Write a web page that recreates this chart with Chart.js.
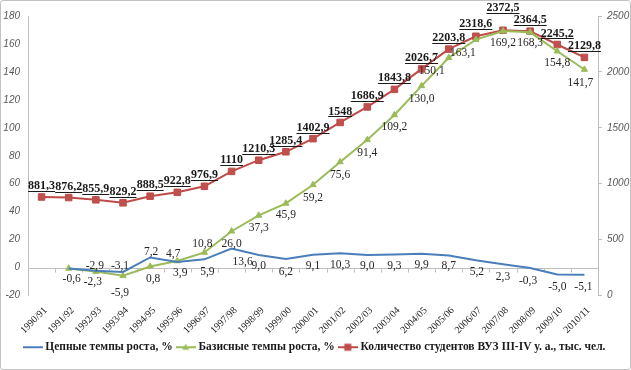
<!DOCTYPE html>
<html>
<head>
<meta charset="utf-8">
<script src="https://cdn.jsdelivr.net/npm/chart.js@4.4.1/dist/chart.umd.min.js"></script>
<style>
    html, body { margin: 0; padding: 0; background: #fff; }
    #wrap { width: 629px; height: 368px; border: 1px solid #c3c3c3; border-radius: 3px; position: relative; }
</style>
</head>
<body>
<div id="wrap"><canvas id="myChart"></canvas></div>
<script>
const years = ['1990/91', '1991/92', '1992/93', '1993/94', '1994/95', '1995/96', '1996/97',
    '1997/98', '1998/99', '1999/00', '2000/01', '2001/02', '2002/03', '2003/04', '2004/05',
    '2005/06', '2006/07', '2007/08', '2008/09', '2009/10', '2010/11'];

// Цепные темпы роста, %
const chainGrowth = [null, -0.6, -2.3, -3.1, 7.2, 3.9, 5.9, 13.6, 9.0, 6.2, 9.1, 10.3, 9.0, 9.3,
    9.9, 8.7, 5.2, 2.3, -0.3, -5.0, -5.1];

// Базисные темпы роста, %
const baseGrowth = [null, -0.6, -2.9, -5.9, 0.8, 4.7, 10.8, 26.0, 37.3, 45.9, 59.2, 75.6, 91.4,
    109.2, 130.0, 150.1, 163.1, 169.2, 168.3, 154.8, 141.7];

// Количество студентов, тыс. чел.
const students = [881.3, 876.2, 855.9, 829.2, 888.5, 922.8, 976.9, 1110, 1210.3, 1285.4, 1402.9,
    1548, 1686.9, 1843.8, 2026.7, 2203.8, 2318.6, 2372.5, 2364.5, 2245.2, 2129.8];

const leftAxis = { min: -20, max: 180, step: 20 };
const rightAxis = { min: 0, max: 2500, step: 500 };

// label offsets (px) relative to the point
const baseLabelDx = [0, 3, -1, -3, 3, -4, -2, 0, 0, 0, 0, 0, 0, 0, 0, -17, -13, 0, 0, 0, -4];
const baseLabelDy = [0, 11, -6, 17, 13, -7, -8, 13, 13, 12, 13, 13, 13, 12, 13, 13, 13, 12, 11, 12, 13];
const chainLabelDx = [0, 0, -3, -3, 1, 3, 3, 11, 0, 0, 0, 0, 0, 0, 0, 0, 1, 0, -2, 0, -1];
const chainLabelDy = [0, null, 11, -6, -6, 11, 13, 13, 11, 13, 11, 12, 11, 11, 11, 11, 12, 13, 13, 12, 12];
const studLabelDy = [-11, -11, -11, -11, -11, -11, -11, -11, -11, -11, -11, -11, -11, -11, -11,
    -11, -12, -22, -11, -11, -11];

const BLUE = '#4a7ebb';
const GREEN = '#9bbb59';
const RED = '#be4b48';

function legendIcon(color, marker) {
    let c = document.createElement('canvas');
    c.width = 20;
    c.height = 10;
    let ctx = c.getContext('2d');
    ctx.strokeStyle = color;
    ctx.lineWidth = 2;
    ctx.beginPath();
    ctx.moveTo(0, 5);
    ctx.lineTo(20, 5);
    ctx.stroke();
    ctx.fillStyle = color;
    if (marker === 'triangle') {
        ctx.beginPath();
        ctx.moveTo(10, 1.5);
        ctx.lineTo(13.5, 7.5);
        ctx.lineTo(6.5, 7.5);
        ctx.closePath();
        ctx.fill();
    } else if (marker === 'rect') {
        ctx.fillRect(6.5, 1.5, 7, 7);
    }
    return c;
}

function fmt(v, fixed) {
    let s = fixed ? v.toFixed(1) : String(v);
    return s.replace('.', ',');
}

const zeroLine = {
    id: 'zeroLine',
    beforeDatasetsDraw(chart) {
        const ctx = chart.ctx;
        const area = chart.chartArea;
        const y0 = Math.round(chart.scales.y.getPixelForValue(0)) + 0.5;
        ctx.save();
        ctx.strokeStyle = '#bfbfbf';
        ctx.lineWidth = 1;
        ctx.beginPath();
        ctx.moveTo(area.left, y0);
        ctx.lineTo(area.right, y0);
        let step = (area.right - area.left) / years.length;
        for (let i = 0; i <= years.length; i++) {
            let x = Math.round(area.left + i * step) + 0.5;
            ctx.moveTo(x, y0);
            ctx.lineTo(x, y0 + 4);
        }
        ctx.stroke();
        ctx.restore();
    }
};

const pointLabels = {
    id: 'pointLabels',
    afterDatasetsDraw(chart) {
        const ctx = chart.ctx;
        ctx.save();
        ctx.textAlign = 'center';
        ctx.textBaseline = 'middle';
        chart.data.datasets.forEach((ds, i) => {
            const meta = chart.getDatasetMeta(i);
            meta.data.forEach((pt, j) => {
                const v = ds.data[j];
                if (v === null || ds.labelDy[j] === null) return;
                const x = pt.x + (ds.labelDx ? ds.labelDx[j] : 0);
                const y = pt.y + ds.labelDy[j];
                const txt = fmt(v, ds.fixed);
                if (ds.bold) {
                    ctx.font = 'bold 12px "Liberation Serif"';
                    ctx.fillStyle = '#1a1a1a';
                    ctx.fillText(txt, x, y);
                    const w = ctx.measureText(txt).width;
                    ctx.strokeStyle = '#1a1a1a';
                    ctx.lineWidth = 1;
                    ctx.beginPath();
                    ctx.moveTo(x - w / 2, Math.round(y + 5) + 0.5);
                    ctx.lineTo(x + w / 2, Math.round(y + 5) + 0.5);
                    ctx.stroke();
                } else {
                    ctx.font = '11.5px "Liberation Serif"';
                    ctx.fillStyle = '#262626';
                    ctx.fillText(txt, x, y);
                }
            });
        });
        ctx.restore();
    }
};

const icons = [legendIcon(BLUE, null), legendIcon(GREEN, 'triangle'), legendIcon(RED, 'rect')];

const myChart = new Chart(document.getElementById('myChart'), {
    type: 'line',
    data: {
        labels: years,
        datasets: [
            {
                label: 'Цепные темпы роста, %',
                data: chainGrowth,
                borderColor: BLUE,
                backgroundColor: BLUE,
                borderWidth: 2,
                pointRadius: 0,
                yAxisID: 'y',
                fixed: true,
                labelDx: chainLabelDx,
                labelDy: chainLabelDy,
            },
            {
                label: 'Базисные темпы роста, %',
                data: baseGrowth,
                borderColor: GREEN,
                backgroundColor: GREEN,
                borderWidth: 2,
                pointStyle: 'triangle',
                pointRadius: 3.6,
                pointBorderWidth: 1,
                yAxisID: 'y',
                fixed: true,
                labelDx: baseLabelDx,
                labelDy: baseLabelDy,
            },
            {
                label: 'Количество студентов ВУЗ III-IV у. а., тыс. чел.',
                data: students,
                borderColor: RED,
                backgroundColor: '#c0504d',
                borderWidth: 2,
                pointStyle: 'rect',
                pointRadius: 4.6,
                pointBorderWidth: 1,
                yAxisID: 'y1',
                fixed: false,
                bold: true,
                labelDy: studLabelDy,
            }
        ]
    },
    options: {
        responsive: true,
        maintainAspectRatio: false,
        animation: false,
        layout: { padding: { top: 15, bottom: 6, left: 0, right: 0 } },
        plugins: {
            tooltip: { enabled: false },
            legend: {
                position: 'bottom',
                labels: {
                    usePointStyle: true,
                    pointStyleWidth: 14,
                    padding: 6,
                    color: '#1a1a1a',
                    font: { family: 'Liberation Serif', size: 11.5, weight: 'bold' },
                    generateLabels(chart) {
                        let items = Chart.defaults.plugins.legend.labels.generateLabels(chart);
                        items.forEach((it, k) => { it.pointStyle = icons[k]; });
                        return items;
                    }
                }
            }
        },
        scales: {
            x: {
                offset: true,
                grid: { display: false },
                border: { display: false },
                ticks: {
                    autoSkip: false,
                    maxRotation: 45,
                    minRotation: 45,
                    padding: 1,
                    labelOffset: 4,
                    color: '#222',
                    font: { family: 'Liberation Serif', size: 10 }
                },
                afterFit(scale) { scale.height = 40; }
            },
            y: {
                type: 'linear',
                position: 'left',
                min: leftAxis.min,
                max: leftAxis.max,
                grid: { display: false, drawTicks: false },
                border: { display: true, color: '#bfbfbf' },
                ticks: {
                    stepSize: leftAxis.step,
                    padding: 8,
                    color: '#595959',
                    font: { family: 'Liberation Sans', size: 10, style: 'italic' }
                },
                afterFit(scale) { scale.width = 27; }
            },
            y1: {
                type: 'linear',
                position: 'right',
                min: rightAxis.min,
                max: rightAxis.max,
                grid: { drawOnChartArea: false, tickLength: 4, color: '#bfbfbf' },
                border: { display: true, color: '#bfbfbf' },
                ticks: {
                    stepSize: rightAxis.step,
                    padding: 5,
                    color: '#595959',
                    font: { family: 'Liberation Sans', size: 10, style: 'italic' },
                    callback: (v) => String(v)
                },
                afterFit(scale) { scale.width = 32; }
            }
        }
    },
    plugins: [zeroLine, pointLabels]
});
</script>
</body>
</html>
